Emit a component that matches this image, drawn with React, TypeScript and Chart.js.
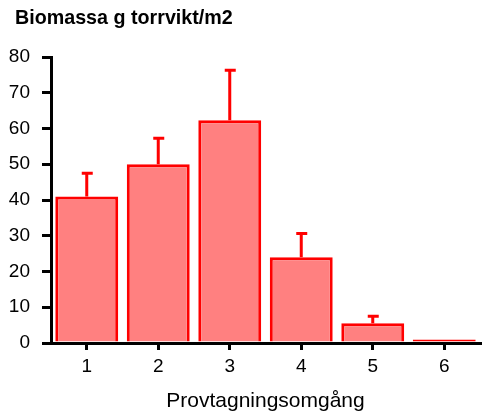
import { useEffect, useRef } from 'react';
import { Chart, registerables } from 'chart.js';

Chart.register(...registerables);

const categories = ['1', '2', '3', '4', '5', '6'];
const biomass = [41, 50, 62.3, 24, 5.5, 1];
const errors = [6.5, 7.3, 14, 6.6, 2, 0];
const titleText = 'Biomassa g torrvikt/m2';
const xTitle = 'Provtagningsomgång';
const yMin = 0;
const yMax = 80;

const FONT = "'Liberation Sans', Arial, sans-serif";

const titlePlugin = {
  id: 'leftTitle',
  afterDraw(chart: any) {
    const ctx = chart.ctx;
    ctx.save();
    ctx.fillStyle = '#000';
    ctx.font = `bold 19.7px ${FONT}`;
    ctx.textAlign = 'left';
    ctx.textBaseline = 'alphabetic';
    ctx.fillText(titleText, 15, 24);
    ctx.restore();
  },
};

const errorBarPlugin = {
  id: 'errorBars',
  afterDatasetsDraw(chart: any) {
    const ctx = chart.ctx;
    const meta = chart.getDatasetMeta(0);
    const yScale = chart.scales.y;
    ctx.save();
    ctx.strokeStyle = '#FF0000';
    ctx.lineWidth = 3;
    meta.data.forEach((bar: any, i: number) => {
      const err = errors[i];
      if (!err) return;
      const x = bar.x;
      const yTop = yScale.getPixelForValue(biomass[i]);
      const yErr = yScale.getPixelForValue(biomass[i] + err);
      ctx.beginPath();
      ctx.moveTo(x, yTop);
      ctx.lineTo(x, yErr);
      ctx.moveTo(x - 5, yErr);
      ctx.lineTo(x + 6, yErr);
      ctx.stroke();
    });
    ctx.restore();
  },
};

export default function App() {
  const ref = useRef<HTMLCanvasElement>(null);
  useEffect(() => {
    if (!ref.current) return;
    const chart = new Chart(ref.current, {
      type: 'bar',
      data: {
        labels: categories,
        datasets: [
          {
            data: biomass,
            backgroundColor: '#FF8080',
            borderColor: '#FF0000',
            borderWidth: 3,
            inflateAmount: 0,
            borderSkipped: (c: any) => (biomass[c.dataIndex] < 2 ? false : 'start'),
            barPercentage: 0.88,
            categoryPercentage: 1,
          },
        ],
      },
      options: {
        animation: false,
        responsive: true,
        maintainAspectRatio: false,
        layout: { padding: { left: 0, right: 2, top: 57, bottom: 0 } },
        plugins: {
          legend: { display: false },
          tooltip: { enabled: false },
          title: { display: false },
        },
        scales: {
          x: {
            type: 'category',
            afterFit: (scale: any) => {
              scale.height = 71;
            },
            grid: {
              offset: false,
              drawOnChartArea: false,
              drawTicks: true,
              tickLength: 7,
              color: '#000',
              lineWidth: 3,
            },
            border: { display: true, color: '#000', width: 3 },
            ticks: { color: '#000', font: { family: FONT, size: 19 }, padding: 5 },
            title: {
              display: true,
              text: xTitle,
              color: '#000',
              font: { family: FONT, size: 21 },
              padding: { top: 0, bottom: 0 },
            },
          },
          y: {
            type: 'linear',
            min: yMin,
            max: yMax,
            afterFit: (scale: any) => {
              scale.width = 51;
            },
            grid: {
              drawOnChartArea: false,
              drawTicks: true,
              tickLength: 9,
              color: '#000',
              lineWidth: 3,
            },
            border: { display: true, color: '#000', width: 3 },
            ticks: {
              stepSize: 5,
              color: '#000',
              font: { family: FONT, size: 19 },
              padding: 12,
              callback: (v: any) => (Number(v) % 10 === 0 ? String(v) : ''),
            },
          },
        },
      },
      plugins: [errorBarPlugin, titlePlugin],
    });
    return () => chart.destroy();
  }, []);
  return (
    <div style={{ position: 'absolute', left: 0, top: 0, width: 482, height: 414 }}>
      <canvas ref={ref} />
    </div>
  );
}
